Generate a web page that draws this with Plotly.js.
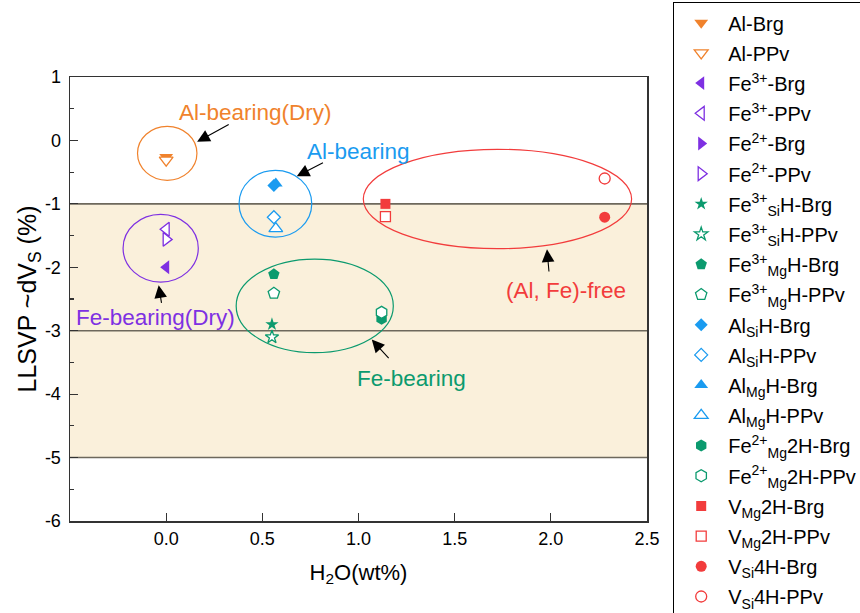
<!DOCTYPE html>
<html>
<head>
<meta charset="utf-8">
<script src="https://cdn.plot.ly/plotly-3.0.1.min.js"></script>
<style>
  html, body { margin: 0; padding: 0; background: #fff; }
  #chart { width: 860px; height: 613px; }
</style>
</head>
<body>
<div id="chart"></div>
<script>
// Seismic shear-velocity anomaly (-dVs) of hydrous / anhydrous Brg and PPv phases vs. water content
const seriesNames = [
  'Al-Brg', 'Al-PPv',
  'Fe<sup>3+</sup>-Brg', 'Fe<sup>3+</sup>-PPv',
  'Fe<sup>2+</sup>-Brg', 'Fe<sup>2+</sup>-PPv',
  'Fe<sup>3+</sup><sub>Si</sub>H-Brg', 'Fe<sup>3+</sup><sub>Si</sub>H-PPv',
  'Fe<sup>3+</sup><sub>Mg</sub>H-Brg', 'Fe<sup>3+</sup><sub>Mg</sub>H-PPv',
  'Al<sub>Si</sub>H-Brg', 'Al<sub>Si</sub>H-PPv',
  'Al<sub>Mg</sub>H-Brg', 'Al<sub>Mg</sub>H-PPv',
  'Fe<sup>2+</sup><sub>Mg</sub>2H-Brg', 'Fe<sup>2+</sup><sub>Mg</sub>2H-PPv',
  'V<sub>Mg</sub>2H-Brg', 'V<sub>Mg</sub>2H-PPv',
  'V<sub>Si</sub>4H-Brg', 'V<sub>Si</sub>4H-PPv'
];
// H2O content (wt%)
const h2oWt = [
  0.00, 0.00,
  0.00, 0.00,
  0.00, 0.00,
  0.55, 0.55,
  0.56, 0.56,
  0.56, 0.56,
  0.57, 0.57,
  1.12, 1.12,
  1.14, 1.14,
  2.28, 2.28
];
// LLSVP ~dVs (%)
const dVs = [
  -0.26, -0.31,
  -2.00, -1.40,
  -1.56, -1.56,
  -2.90, -3.10,
  -2.11, -2.41,
  -0.71, -1.21,
  -0.68, -1.39,
  -2.81, -2.71,
  -1.00, -1.20,
  -1.21, -0.60
];

const xTickVals = [0, 0.5, 1, 1.5, 2, 2.5];
const xTickText = ['0.0', '0.5', '1.0', '1.5', '2.0', '2.5'];
const yTickVals = [1, 0, -1, -2, -3, -4, -5, -6];
const yTickText = ['1', '0', '-1', '-2', '-3', '-4', '-5', '-6'];

// Group labels and the ellipses that enclose each group
const groupLabels = ['Al-bearing(Dry)', 'Al-bearing', 'Fe-bearing(Dry)', 'Fe-bearing', '(Al, Fe)-free'];
const labelX = [0.462, 0.998, -0.058, 1.277, 2.080];
const labelY = [0.448, -0.172, -2.784, -3.755, -2.363];
const ellipseX0 = [-0.149, 0.379, -0.224, 0.364, 1.025];
const ellipseX1 = [0.160, 0.757, 0.167, 1.181, 2.420];
const ellipseY0 = [0.222, -0.472, -1.166, -1.871, -0.140];
const ellipseY1 = [-0.629, -1.524, -2.233, -3.347, -1.707];
// Arrow tail -> head, pointing from each label to its ellipse
const arrowTailX = [0.333, 0.823, -0.023, 1.164, 1.991];
const arrowTailY = [0.265, -0.341, -2.584, -3.456, -2.091];
const arrowHeadX = [0.161, 0.679, -0.039, 1.069, 1.980];
const arrowHeadY = [-0.022, -0.566, -2.284, -3.140, -1.717];

// LLSVP range bounds
const bandLow = -5, bandHigh = -1, bandMid = -3;

// Styling
const ORANGE = '#F0822C', PURPLE = '#7E30E2', GREEN = '#0B9A6E', BLUE = '#1A9BF0', RED = '#F23C3C';
const pairSymbols = ['triangle-down', 'triangle-left', 'triangle-right', 'star', 'pentagon',
                     'diamond', 'triangle-up', 'hexagon', 'square', 'circle'];
const pairSizes = [12, 12, 12, 10, 12, 10, 12, 12, 10, 11];
const pairColors = [ORANGE, PURPLE, PURPLE, GREEN, GREEN, BLUE, BLUE, GREEN, RED, RED];
const groupColors = [ORANGE, BLUE, PURPLE, GREEN, RED];
const FONT = 'Liberation Sans, Arial, Helvetica, sans-serif';

const traces = seriesNames.map((name, i) => {
  const pair = Math.floor(i / 2);
  const open = i % 2 === 1;
  const c = pairColors[pair];
  return {
    type: 'scatter',
    mode: 'markers',
    name: name,
    legendgroup: 'g' + i,
    x: [h2oWt[i]],
    y: [dVs[i]],
    hoverinfo: 'skip',
    marker: {
      symbol: pairSymbols[pair],
      size: pairSizes[pair],
      color: open ? '#ffffff' : c,
      line: { color: c, width: open ? 1.3 : 0 }
    }
  };
});

const shapes = [
  { type: 'rect', xref: 'paper', yref: 'y', x0: 0, x1: 1, y0: bandLow, y1: bandHigh,
    fillcolor: '#FAF0DB', line: { width: 0 }, layer: 'below' }
];
[bandHigh, bandMid, bandLow].forEach(v => shapes.push({
  type: 'line', xref: 'paper', yref: 'y', x0: 0, x1: 1, y0: v, y1: v,
  line: { color: '#6d685c', width: 1.6 }, layer: 'below'
}));
groupLabels.forEach((_, k) => shapes.push({
  type: 'circle', xref: 'x', yref: 'y',
  x0: ellipseX0[k], x1: ellipseX1[k], y0: ellipseY0[k], y1: ellipseY1[k],
  line: { color: groupColors[k], width: 1.2 }, layer: 'below'
}));

const annotations = [];
groupLabels.forEach((txt, k) => {
  annotations.push({
    x: labelX[k], y: labelY[k], xref: 'x', yref: 'y', text: txt, showarrow: false,
    font: { family: FONT, size: 22.5, color: groupColors[k] }, xanchor: 'center', yanchor: 'middle'
  });
  annotations.push({
    x: arrowHeadX[k], y: arrowHeadY[k], xref: 'x', yref: 'y',
    ax: arrowTailX[k], ay: arrowTailY[k], axref: 'x', ayref: 'y',
    text: '', showarrow: true, arrowhead: 2, arrowsize: 2.3, arrowwidth: 1.1, arrowcolor: '#000'
  });
});

const layout = {
  width: 860, height: 613,
  margin: { l: 70, r: 213, t: 77, b: 92, autoexpand: false },
  paper_bgcolor: '#ffffff', plot_bgcolor: '#ffffff',
  font: { family: FONT, color: '#000' },
  showlegend: true,
  xaxis: {
    range: [-0.5, 2.5], tickvals: xTickVals, ticktext: xTickText,
    ticks: 'inside', ticklen: 8, tickwidth: 1.2, tickcolor: '#333',
    showline: true, linecolor: '#333', linewidth: 1.5, mirror: true,
    showgrid: false, zeroline: false,
    tickfont: { family: FONT, size: 18, color: '#000' }, ticklabelstandoff: 1,
    title: { text: 'H<sub>2</sub>O(wt%)', font: { family: FONT, size: 22, color: '#000' }, standoff: 16 }
  },
  yaxis: {
    range: [-6, 1], tickvals: yTickVals, ticktext: yTickText,
    ticks: 'inside', ticklen: 8, tickwidth: 1.2, tickcolor: '#333',
    minor: { dtick: 0.5, ticks: 'inside', ticklen: 4, tickwidth: 1.2, tickcolor: '#333' },
    showline: true, linecolor: '#333', linewidth: 1.5, mirror: true,
    showgrid: false, zeroline: false,
    tickfont: { family: FONT, size: 18, color: '#000' }, ticklabelstandoff: 4,
    title: { text: 'LLSVP ~dV<sub>S</sub> (%)', font: { family: FONT, size: 25, color: '#000' }, standoff: 0 }
  },
  legend: {
    x: 673 / 860, xref: 'container', xanchor: 'left',
    y: 1 - 2 / 613, yref: 'container', yanchor: 'top',
    bgcolor: '#ffffff', bordercolor: '#000', borderwidth: 1.2,
    font: { family: FONT, size: 20, color: '#000' },
    itemwidth: 44, tracegroupgap: 1.2, traceorder: 'grouped',
    maxheight: 2000, itemclick: false, itemdoubleclick: false
  },
  shapes: shapes,
  annotations: annotations
};

Plotly.newPlot('chart', traces, layout, { staticPlot: true, displayModeBar: false });
</script>
</body>
</html>
